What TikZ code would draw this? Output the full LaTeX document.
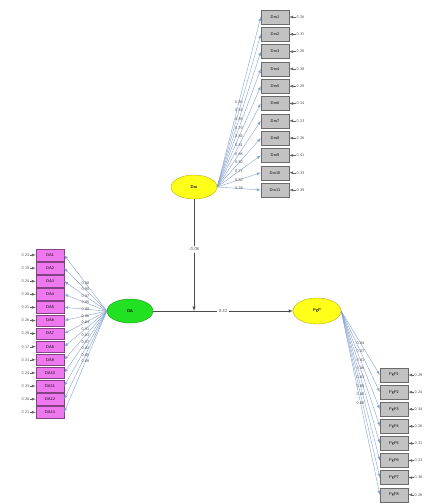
\documentclass[tikz,border=0pt]{standalone}
\usetikzlibrary{shapes.geometric}
\tikzset{>=latex}
\definecolor{indgray}{HTML}{C2C2C2}
\definecolor{indpink}{HTML}{EE78EE}
\definecolor{latyellow}{HTML}{FFFF1A}
\definecolor{latgreen}{HTML}{22E022}
\definecolor{fanblue}{HTML}{86A2D0}
\tikzset{latent/.style={ellipse, draw=#1!70!black, fill=#1, minimum width=46pt, minimum height=24pt, inner sep=0pt, font=\sffamily\bfseries\fontsize{4}{5}\selectfont}}
\tikzset{indbox/.style={rectangle, draw=#1!55!black, fill=#1, minimum width=28pt, minimum height=13pt, inner sep=0pt, font=\sffamily\fontsize{4}{5}\selectfont}}
\tikzset{loadline/.style={->, draw=fanblue, line width=0.4pt}}
\tikzset{numlbl/.style={font=\sffamily\fontsize{4}{5}\selectfont, inner sep=0.5pt, text=black!70}}
\tikzset{pathlbl/.style={font=\sffamily\fontsize{4.5}{5}\selectfont, fill=white, inner sep=1.5pt, text=black!70}}

\begin{document}
\begin{tikzpicture}[x=1pt,y=-1pt]
      \useasboundingbox (0,0) rectangle (426,504);
      % latent variables
      \node[latent=latyellow] (mo) at (194,187) {Dm};
      \node[latent=latgreen] (da) at (130,311) {DA};
      \node[latent=latyellow, minimum width=48pt, minimum height=26pt] (pp) at (317,311) {PgP};
      % moderator block
      \foreach \i/\ld/\er in {1/0.86/0.26, 2/0.83/0.31, 3/0.85/0.28, 4/0.79/0.38, 5/0.84/0.29, 6/0.81/0.34,
          7/0.88/0.23, 8/0.80/0.36, 9/0.77/0.41, 10/0.82/0.33, 11/0.78/0.39} {
        \pgfmathsetmacro\yy{17+17.3*(\i-1)}
        \node[indbox=indgray, minimum height=14pt] (dm\i) at (275,\yy) {Dm\i};
        \node[numlbl, anchor=west] (edm\i) at (296,\yy) {\er};
        \draw[->, black!60] (edm\i.west) -- (dm\i.east);
        \draw[loadline] (mo.east) -- node[numlbl] {\ld} (dm\i.west);
      }
      % independent block
      \foreach \i/\ld/\er in {1/0.88/0.23, 2/0.90/0.19, 3/0.87/0.24, 4/0.85/0.28, 5/0.89/0.21, 6/0.86/0.26,
          7/0.84/0.29, 8/0.91/0.17, 9/0.83/0.31, 10/0.87/0.24, 11/0.82/0.33, 12/0.85/0.28, 13/0.89/0.21} {
        \pgfmathsetmacro\yy{255+13.1*(\i-1)}
        \node[indbox=indpink, minimum height=11.5pt] (da\i) at (50,\yy) {DA\i};
        \node[numlbl, anchor=east] (eda\i) at (30,\yy) {\er};
        \draw[->, black!60] (eda\i.east) -- (da\i.west);
        \draw[loadline] (da.west) -- node[numlbl] {\ld} (da\i.east);
      }
      % dependent block
      \foreach \i/\ld/\er in {1/0.84/0.29, 2/0.87/0.24, 3/0.81/0.34, 4/0.86/0.26,
          5/0.83/0.31, 6/0.88/0.23, 7/0.80/0.36, 8/0.85/0.28} {
        \pgfmathsetmacro\yy{375+17.1*(\i-1)}
        \node[indbox=indgray, minimum height=14pt] (pp\i) at (394,\yy) {PgP\i};
        \node[numlbl, anchor=west] (epp\i) at (414,\yy) {\er};
        \draw[->, black!60] (epp\i.west) -- (pp\i.east);
        \draw[loadline] (pp.east) -- node[numlbl] {\ld} (pp\i.west);
      }
      % structural paths
      \coordinate (mod) at (194,311);
      \draw[->, black!70, line width=0.5pt] (da) -- node[pathlbl, pos=0.5] {0.32} (pp);
      \draw[->, black!70, line width=0.5pt] (mo) -- node[pathlbl, pos=0.45] {-0.08} (mod);
\end{tikzpicture}
\end{document}
